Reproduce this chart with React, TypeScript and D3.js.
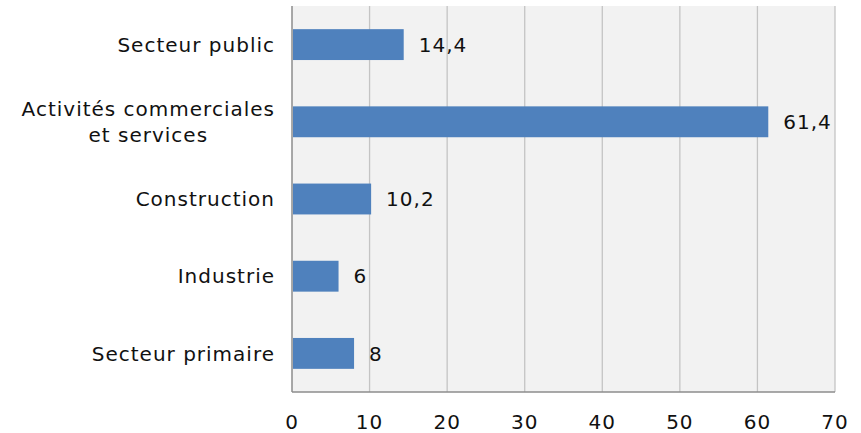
import * as React from "react";
import * as d3 from "d3";

const categories: string[][] = [
  ["Secteur public"],
  ["Activités commerciales", "et services"],
  ["Construction"],
  ["Industrie"],
  ["Secteur primaire"],
];
const values: number[] = [14.4, 61.4, 10.2, 6, 8];
const xTicks: number[] = [0, 10, 20, 30, 40, 50, 60, 70];

function barChart(svgRef: React.RefObject<SVGSVGElement>) {
  const svg = d3.select(svgRef.current);
  svg.selectAll("*").remove();

  const width = 861;
  const height = 433;
  const left = 292;
  const right = 835;
  const top = 6;
  const bottom = 392;
  const font = '"DejaVu Sans", sans-serif';
  const fontSize = 20;
  const spacing = 1;

  svg.attr("width", width).attr("height", height);

  const xScale = d3.scaleLinear().domain([0, 70]).range([left, right]);
  const yScale = d3
    .scaleBand<number>()
    .domain(d3.range(categories.length))
    .range([top, bottom])
    .paddingInner(0.6)
    .paddingOuter(0.3);

  // plot background
  svg
    .append("rect")
    .attr("x", left)
    .attr("y", top)
    .attr("width", right - left)
    .attr("height", bottom - top)
    .attr("fill", "#f2f2f2");

  // gridlines
  svg
    .append("g")
    .selectAll("line")
    .data(xTicks.slice(1))
    .enter()
    .append("line")
    .attr("x1", (d) => xScale(d))
    .attr("x2", (d) => xScale(d))
    .attr("y1", top)
    .attr("y2", bottom)
    .attr("stroke", "#c4c4c4")
    .attr("stroke-width", 1.3);

  // axes lines
  svg
    .append("line")
    .attr("x1", left)
    .attr("x2", left)
    .attr("y1", top)
    .attr("y2", bottom)
    .attr("stroke", "#8c8c8c")
    .attr("stroke-width", 1.5);
  svg
    .append("line")
    .attr("x1", left)
    .attr("x2", right)
    .attr("y1", bottom)
    .attr("y2", bottom)
    .attr("stroke", "#8c8c8c")
    .attr("stroke-width", 1.5);

  // bars
  svg
    .append("g")
    .selectAll("rect")
    .data(values)
    .enter()
    .append("rect")
    .attr("x", xScale(0) + 1)
    .attr("y", (_d, i) => yScale(i)!)
    .attr("width", (d) => xScale(d) - xScale(0) - 1)
    .attr("height", yScale.bandwidth())
    .attr("fill", "#4f81bd");

  // value labels
  const fmt = (v: number) => String(v).replace(".", ",");
  svg
    .append("g")
    .selectAll("text")
    .data(values)
    .enter()
    .append("text")
    .attr("x", (d) => xScale(d) + 15)
    .attr("y", (_d, i) => yScale(i)! + yScale.bandwidth() / 2)
    .attr("dy", "0.36em")
    .attr("font-family", font)
    .attr("font-size", fontSize)
    .attr("letter-spacing", spacing)
    .attr("fill", "#111")
    .text((d) => fmt(d));

  // category labels, right-aligned block, lines centred within it
  const labels = svg.append("g");
  categories.forEach((lines, i) => {
    const cy = yScale(i)! + yScale.bandwidth() / 2;
    const lineH = 26;
    const t = labels
      .append("text")
      .attr("font-family", font)
      .attr("font-size", fontSize)
      .attr("letter-spacing", spacing)
      .attr("fill", "#111")
      .attr("text-anchor", "middle");
    lines.forEach((l, j) => {
      t.append("tspan")
        .attr("x", 0)
        .attr("y", cy + (j - (lines.length - 1) / 2) * lineH)
        .attr("dy", "0.36em")
        .text(l);
    });
    const w = (t.node() as SVGTextElement).getBBox().width;
    t.selectAll("tspan").attr("x", left - 17 - w / 2);
  });

  // x tick labels
  svg
    .append("g")
    .selectAll("text")
    .data(xTicks)
    .enter()
    .append("text")
    .attr("x", (d) => xScale(d))
    .attr("y", 422)
    .attr("dy", "0.36em")
    .attr("text-anchor", "middle")
    .attr("font-family", font)
    .attr("font-size", fontSize)
    .attr("letter-spacing", spacing)
    .attr("fill", "#111")
    .text((d) => String(d));
}

export default function App() {
  const svg = React.useRef<SVGSVGElement>(null);
  React.useEffect(() => {
    barChart(svg);
  }, [svg]);

  return (
    <svg
      ref={svg}
      style={{ position: "absolute", left: 0, top: 0, display: "block" }}
    />
  );
}
